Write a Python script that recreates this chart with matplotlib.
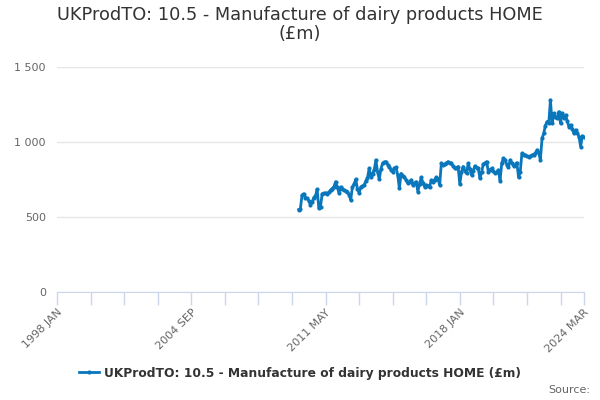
import matplotlib
matplotlib.use("Agg")
import matplotlib.pyplot as plt
from matplotlib.ticker import FuncFormatter
from matplotlib.lines import Line2D

title = "UKProdTO: 10.5 - Manufacture of dairy products HOME\n(£m)"
series_name = "UKProdTO: 10.5 - Manufacture of dairy products HOME (£m)"

months = ["JAN", "FEB", "MAR", "APR", "MAY", "JUN",
          "JUL", "AUG", "SEP", "OCT", "NOV", "DEC"]
first_year = 1998
last_year = 2024
last_month = 3
data_start = "2010 JAN"

# monthly values, 2010 JAN .. 2024 MAR
values = [
    550, 555, 645, 655, 630, 625, 610, 580, 600, 630, 640, 685,      # 2010
    558, 570, 655, 658, 660, 655, 665, 680, 690, 702, 735, 700,      # 2011
    660, 700, 690, 680, 672, 668, 650, 613, 700, 720, 751, 690,      # 2012
    660, 700, 705, 713, 740, 760, 824, 765, 790, 813, 880, 800,      # 2013
    751, 820, 858, 865, 869, 850, 836, 815, 802, 825, 831, 780,      # 2014
    691, 790, 775, 765, 747, 724, 735, 747, 713, 725, 735, 669,      # 2015
    720, 764, 730, 702, 713, 708, 702, 745, 735, 750, 764, 755,      # 2016
    713, 858, 845, 853, 860, 869, 862, 858, 840, 824, 830, 836,      # 2017
    718, 800, 836, 810, 791, 858, 820, 780, 810, 840, 830, 824,      # 2018
    758, 800, 853, 860, 869, 802, 815, 824, 805, 791, 800, 813,      # 2019
    742, 860, 891, 880, 850, 831, 880, 860, 840, 850, 862, 764,      # 2020
    800, 924, 915, 913, 905, 902, 905, 913, 915, 924, 947, 930,      # 2021
    880, 1024, 1058, 1110, 1136, 1124, 1280, 1124, 1191, 1165, 1158, 1202,  # 2022
    1124, 1191, 1158, 1180, 1140, 1102, 1113, 1090, 1058, 1080, 1060, 1036,  # 2023
    969, 1040, 1035,                                                  # 2024
]

labels = []
for y in range(first_year, last_year + 1):
    for m in months:
        labels.append(f"{y} {m}")
labels = labels[:labels.index(f"{last_year} {months[last_month - 1]}") + 1]
start_idx = labels.index(data_start)
xs = list(range(start_idx, start_idx + len(values)))

line_color = "#0a77bd"
text_color = "#333333"
axis_text = "#666666"

fig = plt.figure(figsize=(6, 4), dpi=100)
ax = fig.add_axes([57 / 600, 108 / 400, 527 / 600, 225 / 400])

ax.plot(xs, values, color=line_color, linewidth=2, marker="o",
        markersize=3, markeredgewidth=0, zorder=3)

ax.set_xlim(0, len(labels) - 1)
ax.set_ylim(0, 1500)
ax.set_yticks([0, 500, 1000, 1500])
ax.yaxis.set_major_formatter(FuncFormatter(lambda v, p: f"{int(v):,}".replace(",", " ")))
ax.grid(axis="y", color="#e6e6e6", linewidth=1)
ax.set_axisbelow(True)

major = [0, 80, 160, 240, len(labels) - 1]
minor = list(range(0, len(labels), 20)) + [len(labels) - 1]
ax.set_xticks(major)
ax.set_xticklabels([labels[i] for i in major], rotation=45, ha="right",
                   rotation_mode="anchor", color=axis_text, fontsize=8)
ax.set_xticks(minor, minor=True)
ax.tick_params(axis="x", which="both", length=9, color="#ccd6eb", width=1,
               pad=2)
ax.tick_params(axis="y", length=0, labelcolor=axis_text, labelsize=8, pad=8)

for side in ["top", "right", "left"]:
    ax.spines[side].set_visible(False)
ax.spines["bottom"].set_color("#ccd6eb")

fig.text(0.5, 0.985, title, ha="center", va="top", fontsize=12.8,
         color=text_color, linespacing=1.1)

handle = Line2D([], [], color=line_color, linewidth=2, marker="o",
                markersize=3, markeredgewidth=0)
fig.legend([handle], [series_name], loc="center", bbox_to_anchor=(0.5, 0.067),
           frameon=False, handlelength=1.6, handletextpad=0.4,
           prop={"weight": "bold", "size": 8.8}, labelcolor=text_color)

fig.text(0.983, 0.025, "Source:", ha="right", va="center", fontsize=8,
         color=axis_text)

fig.savefig("out.png", dpi=100)
